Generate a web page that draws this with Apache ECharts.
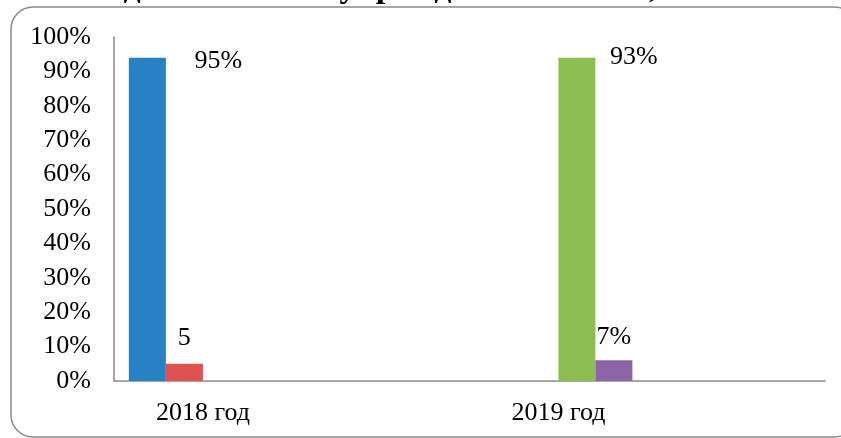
<!DOCTYPE html>
<html>
<head>
<meta charset="utf-8">
<script src="https://cdn.jsdelivr.net/npm/echarts@6/dist/echarts.min.js"></script>
<style>
html,body{margin:0;padding:0;background:#fff;}
#chart{width:841px;height:438px;}
</style>
</head>
<body>
<div id="chart"></div>
<script>
const titleText = "деятельности учреждении в 2018 г, 2019 г.";
const categories = ["2018 год", "", "2019 год", ""];
const yTicks = [0, 10, 20, 30, 40, 50, 60, 70, 80, 90, 100];
const seriesA = [94, null, null, null];   // blue
const seriesB = [5, null, null, null];    // red
const seriesC = [null, null, 94, null];   // green
const seriesD = [null, null, 6, null];    // purple
const labelsA = ["95%", "", "", ""];
const labelsB = ["5", "", "", ""];
const labelsC = ["", "", "93%", ""];
const labelsD = ["", "", "7%", ""];

const FONT = "Liberation Serif";
const FS = 26;
const chart = echarts.init(document.getElementById('chart'), null, {renderer: 'canvas'});

function mk(name, data, labels, color, offset) {
  return {
    name: name,
    type: 'bar',
    barGap: '0%',
    barCategoryGap: '16.7%',
    data: data.map(v => v === null ? '-' : v),
    itemStyle: {color: color},
    label: {
      show: true,
      position: 'top',
      distance: 5,
      offset: offset,
      fontFamily: FONT,
      fontSize: FS,
      color: '#000',
      formatter: p => labels[p.dataIndex]
    }
  };
}

chart.setOption({
  animation: false,
  backgroundColor: '#fff',
  grid: {left: 114, right: 16, top: 37, bottom: 57, containLabel: false},
  xAxis: {
    type: 'category',
    data: categories,
    axisLine: {lineStyle: {color: '#8a8a8a', width: 1.5}},
    axisTick: {show: false},
    axisLabel: {interval: 0, fontFamily: FONT, fontSize: FS, color: '#000', margin: 19}
  },
  yAxis: {
    type: 'value',
    min: yTicks[0],
    max: yTicks[yTicks.length - 1],
    interval: 10,
    axisLine: {show: true, lineStyle: {color: '#8a8a8a', width: 1.5}},
    axisTick: {show: false},
    splitLine: {show: false},
    axisLabel: {fontFamily: FONT, fontSize: FS, color: '#000', margin: 23, formatter: '{value}%'}
  },
  graphic: [
    {
      type: 'rect',
      shape: {x: 11, y: 7, width: 845, height: 430, r: 22},
      style: {fill: 'none', stroke: '#8a8a8a', lineWidth: 1.5},
      z: -1
    },
    {
      type: 'text',
      x: 443, y: -12,
      style: {
        text: titleText,
        fontFamily: FONT, fontSize: 34, fontWeight: 'bold',
        fill: '#000', align: 'center', verticalAlign: 'middle'
      }
    }
  ],
  series: [
    mk('A', seriesA, labelsA, '#2781C3', [71, 22]),
    mk('B', seriesB, labelsB, '#DF5050', [0, -8]),
    mk('C', seriesC, labelsC, '#8DBE52', [57, 18]),
    mk('D', seriesD, labelsD, '#8B65A5', [0, -5])
  ]
});
</script>
</body>
</html>
